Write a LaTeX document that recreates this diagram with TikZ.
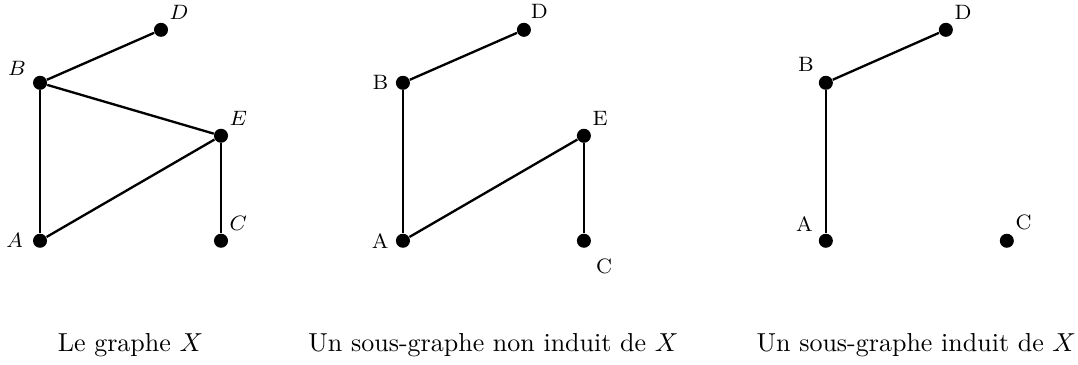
\documentclass[tikz,border=0pt]{standalone}
\usepackage{tikz}
\usetikzlibrary{positioning}
\tikzset{vertex/.style={circle,fill=black,inner sep=0pt,minimum size=5.4pt},
  edge/.style={line width=0.9pt},
  lab/.style={font=\footnotesize,inner sep=1.5pt},
  caption/.style={font=\normalsize}}
\begin{document}
\begin{tikzpicture}
\useasboundingbox (0,0) rectangle (14.57,4.93);
% Le graphe X
\begin{scope}[shift={(0.541,1.676)}]
\node[vertex,label={[lab,label distance=2pt]left:$A$}] (A1) at (0,0) {};
\node[vertex,label={[lab,label distance=1pt]165:$B$}] (B1) at (0,2.135) {};
\node[vertex,label={[lab]55:$D$}] (D1) at (1.635,2.851) {};
\node[vertex,label={[lab]55:$E$}] (E1) at (2.446,1.419) {};
\node[vertex,label={[lab]55:$C$}] (C1) at (2.446,0) {};
\node[caption] (cap1) at (1.223,-1.41) {Le graphe $X$};
\end{scope}
\draw[edge] (B1) -- (D1);
\draw[edge] (B1) -- (E1);
\draw[edge] (B1) -- (A1);
\draw[edge] (A1) -- (E1);
\draw[edge] (E1) -- (C1);
% sous-graphe non induit
\begin{scope}[shift={(5.446,1.676)}]
\node[vertex,label={[lab,label distance=1pt]left:A}] (A2) at (0,0) {};
\node[vertex,label={[lab,label distance=1pt]left:B}] (B2) at (0,2.135) {};
\node[vertex,label={[lab]70:D}] (D2) at (1.635,2.851) {};
\node[vertex,label={[lab]55:E}] (E2) at (2.446,1.419) {};
\node[vertex,label={[lab,label distance=3pt]-60:C}] (C2) at (2.446,0) {};
\node[caption] (cap2) at (1.223,-1.41) {Un sous-graphe non induit de $X$};
\end{scope}
\draw[edge] (B2) -- (D2);
\draw[edge] (B2) -- (A2);
\draw[edge] (A2) -- (E2);
\draw[edge] (E2) -- (C2);
% sous-graphe induit
\begin{scope}[shift={(11.162,1.676)}]
\node[vertex,label={[lab,label distance=1pt]150:A}] (A3) at (0,0) {};
\node[vertex,label={[lab,label distance=1pt]140:B}] (B3) at (0,2.135) {};
\node[vertex,label={[lab]55:D}] (D3) at (1.622,2.851) {};
\node[vertex,label={[lab]55:C}] (C3) at (2.446,0) {};
\node[caption] (cap3) at (1.223,-1.41) {Un sous-graphe induit de $X$};
\end{scope}
\draw[edge] (B3) -- (D3);
\draw[edge] (B3) -- (A3);
\end{tikzpicture}
\end{document}
